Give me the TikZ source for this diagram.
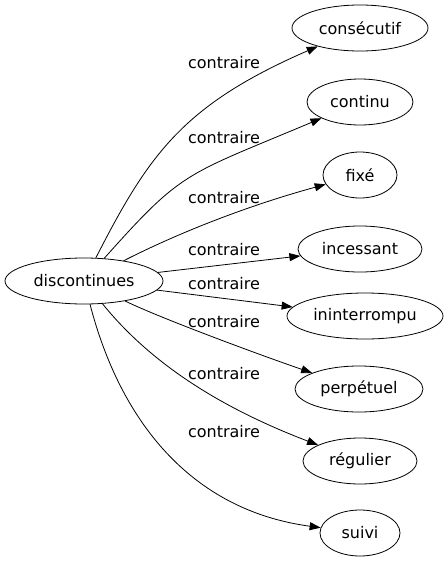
\documentclass[tikz,border=0pt]{standalone}
\usepackage{fontspec}
\setmainfont{DejaVu Sans}
\usetikzlibrary{shapes.geometric,arrows.meta}

\begin{document}
\begin{tikzpicture}[x=1pt,y=-1pt,line join=round,line cap=round,>={Triangle[length=11pt,width=8pt]},line width=0.8pt]
			\tikzset{every node/.style={font=\fontsize{16}{19}\selectfont},
				mot/.style={ellipse,draw,inner sep=0pt,minimum height=46pt,minimum width=#1}}
			\useasboundingbox (0,0) rectangle (447,563);
			\node[mot=158pt] (disc) at (84,281) {discontinues};
			\node[mot=136pt] (cons) at (360,28) {consécutif};
			\node[mot=106pt] (cont) at (360,102) {continu};
			\node[mot=74pt] (fixe) at (360,175) {fixé};
			\node[mot=124pt] (inc) at (360,249) {incessant};
			\node[mot=156pt] (inint) at (365,316) {ininterrompu};
			\node[mot=128pt] (perp) at (359,389) {perpétuel};
			\node[mot=114pt] (reg) at (360,461) {régulier};
			\node[mot=80pt] (suivi) at (360,533) {suivi};
			% les arcs
			\draw[->] (disc) .. controls (149,154) and (183,105) .. (cons);
			\draw[->] (disc) .. controls (183,170) and (184,176) .. (cont);
			\draw[->] (disc) .. controls (180,232) and (250,205) .. (fixe);
			\draw[->] (disc) -- (inc);
			\draw[->] (disc) -- (inint);
			\draw[->] (disc) .. controls (160,318) and (260,355) .. (perp);
			\draw[->] (disc) .. controls (140,350) and (200,400) .. (reg);
			\draw[->] (disc) .. controls (120,420) and (190,510) .. (suivi);
			% les etiquettes
			\node (l1) at (224,63) {contraire};
			\node (l2) at (224,138) {contraire};
			\node (l3) at (224,198) {contraire};
			\node (l4) at (224,250) {contraire};
			\node (l5) at (224,284) {contraire};
			\node (l6) at (224,322) {contraire};
			\node (l7) at (224,374) {contraire};
			\node (l8) at (224,432) {contraire};
		\end{tikzpicture}
\end{document}
